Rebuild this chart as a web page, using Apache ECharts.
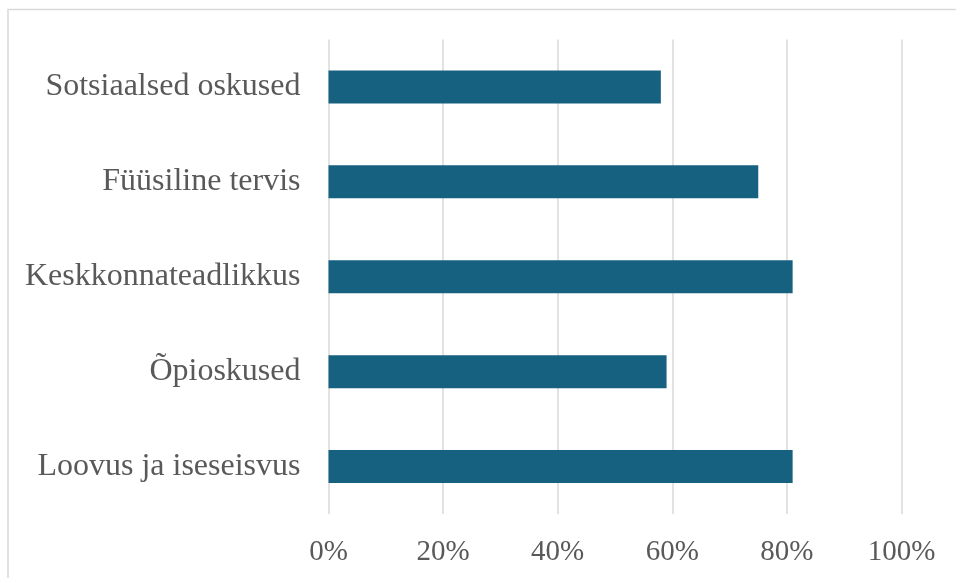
<!DOCTYPE html>
<html>
<head>
<meta charset="utf-8">
<script src="https://cdn.jsdelivr.net/npm/echarts@6/dist/echarts.min.js"></script>
<style>
  html, body { margin: 0; padding: 0; background: #fff; }
  #chart { width: 956px; height: 578px; }
</style>
</head>
<body>
<div id="chart"></div>
<script>
// kategooriad ülevalt alla
const categories = ['Sotsiaalsed oskused', 'Füüsiline tervis', 'Keskkonnateadlikkus', 'Õpioskused', 'Loovus ja iseseisvus'];
const values = [58, 75, 81, 59, 81];
const xTicks = [0, 20, 40, 60, 80, 100];

const chart = echarts.init(document.getElementById('chart'));
const options = {
  animation: false,
  graphic: [{
    type: 'rect',
    shape: { x: 8, y: 9.5, width: 1000, height: 700 },
    style: { fill: 'none', stroke: '#d9d9d9', lineWidth: 1.5 },
    silent: true
  }],
  grid: {
    left: 328.5,
    right: 54.5,
    top: 39.5,
    bottom: 64
  },
  xAxis: {
    type: 'value',
    min: xTicks[0],
    max: xTicks[xTicks.length - 1],
    interval: 20,
    axisLine: { show: false },
    axisTick: { show: false },
    splitLine: { show: true, lineStyle: { color: '#d9d9d9', width: 1.5 } },
    axisLabel: {
      formatter: '{value}%',
      fontFamily: 'Liberation Serif',
      fontSize: 29,
      color: '#595959',
      margin: 24
    }
  },
  yAxis: {
    type: 'category',
    data: categories,
    inverse: true,
    axisLine: { show: false },
    axisTick: { show: false },
    axisLabel: {
      fontFamily: 'Liberation Serif',
      fontSize: 32,
      color: '#595959',
      margin: 28
    }
  },
  series: [{
    type: 'bar',
    data: values,
    barWidth: 33,
    itemStyle: { color: '#166080' }
  }]
};
chart.setOption(options);
</script>
</body>
</html>
